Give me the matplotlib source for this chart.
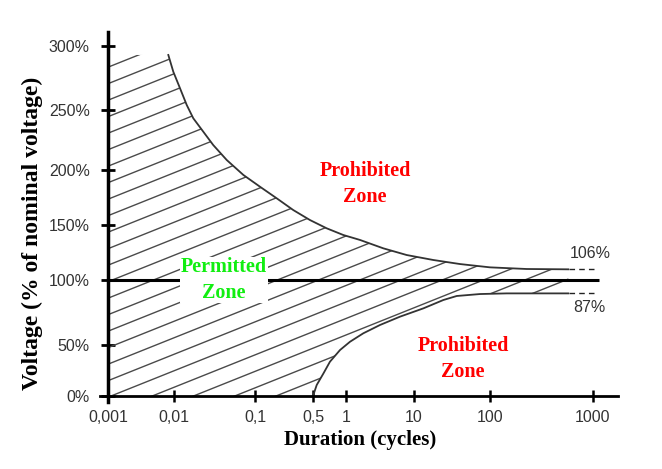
import numpy as np
import matplotlib.pyplot as plt
from matplotlib.collections import LineCollection

# tick values / labels
x_ticks = [0.001, 0.01, 0.1, 0.5, 1, 10, 100, 1000]
x_tick_labels = ['0,001', '0,01', '0,1', '0,5', '1', '10', '100', '1000']
y_ticks = [0, 50, 100, 150, 200, 250, 300]
y_tick_labels = ['0%', '50%', '100%', '150%', '200%', '250%', '300%']

# overvoltage limit curve (cycles, % of nominal)
upper_cycles = [0.0082, 0.00976, 0.01186, 0.01436, 0.0173, 0.0230, 0.0305, 0.0448,
                0.0718, 0.1148, 0.1824, 0.289, 0.460, 0.668, 0.951, 1.62, 3.55,
                7.82, 17.9, 40.3, 100, 227, 575]
upper_volts = [293.0, 279.9, 267.0, 253.9, 243.1, 231.9, 220.8, 208.3,
               195.5, 184.8, 174.3, 163.6, 154.5, 147.0, 140.9, 136.4, 128.8,
               122.7, 118.2, 114.5, 111.5, 110.0, 109.7]

# undervoltage limit curve
lower_cycles = [0.5, 0.541, 0.622, 0.716, 0.887, 1.156, 1.81, 3.18, 6.24,
                13.3, 24.3, 36.5, 73.8, 145, 575]
lower_volts = [0.0, 10.8, 21.9, 33.6, 45.1, 52.5, 59.0, 65.4, 71.8,
               78.2, 84.6, 87.7, 89.2, 89.7, 89.7]

nominal = 100
nominal_end = 1150        # where the 100% line stops
dash_cycles = [585, 1045]  # short dashed continuation of the steady state limits

# the hand drawn axes are not evenly spaced, so map ticks to their pixel spots
x_axis_log = [-4, -3, -2, -1, np.log10(0.5), 0, 1, 2, 3, 4]
x_axis_px = [42, 108, 174, 255, 313, 345.7, 414, 490, 593, 696]
y_axis_val = [-50, 0, 50, 100, 150, 200, 250, 300, 350]
y_axis_px = [447, 396, 345, 280, 225, 170, 110, 46, -18]


def fwd_x(x):
    return np.interp(np.log10(np.clip(x, 1e-12, None)), x_axis_log, x_axis_px)


def inv_x(p):
    return 10 ** np.interp(p, x_axis_px, x_axis_log)


def fwd_y(v):
    return -np.interp(v, y_axis_val, y_axis_px)


def inv_y(t):
    return np.interp(-np.asarray(t), y_axis_px[::-1], y_axis_val[::-1])


W, H = 662, 469
fig = plt.figure(figsize=(W / 100, H / 100), dpi=100)
ax = fig.add_axes([100 / W, 1 - 402 / H, 518 / W, 370 / H])
ax.set_xscale('function', functions=(fwd_x, inv_x))
ax.set_yscale('function', functions=(fwd_y, inv_y))
ax.set_xlim(inv_x(100), inv_x(618))
ax.set_ylim(inv_y(-402), inv_y(-32))

# permitted region outline (used only to clip the hatching)
top = upper_volts[0]
poly_x = [x_ticks[0]] + upper_cycles + lower_cycles[::-1] + [x_ticks[0]]
poly_y = [top] + upper_volts + lower_volts[::-1] + [0]
region = ax.fill(poly_x, poly_y, facecolor='none', edgecolor='none')[0]

# shallow diagonal hatch lines
k = 0.4 * 518 / 370
segs = [[(0, v0), (1, v0 + k)] for v0 in np.arange(-0.62, 1.0, 16.5 / 370)]
hatch = LineCollection(segs, colors='#4a4a4a', linewidths=1.0, transform=ax.transAxes)
ax.add_collection(hatch)
hatch.set_clip_path(region)

ax.plot(upper_cycles, upper_volts, color='#333333', lw=1.3)
ax.plot(lower_cycles, lower_volts, color='#333333', lw=1.3)
ax.hlines(nominal, x_ticks[0], nominal_end, color='black', lw=2.2, zorder=3)
ax.plot(dash_cycles, [upper_volts[-1]] * 2, color='#222222', lw=1, ls=(0, (4, 3)))
ax.plot(dash_cycles, [lower_volts[-1]] * 2, color='#222222', lw=1, ls=(0, (4, 3)))

for s in ['top', 'right']:
    ax.spines[s].set_visible(False)
ax.spines['left'].set_position(('data', x_ticks[0]))
ax.spines['bottom'].set_position(('data', 0))
ax.spines['left'].set_linewidth(2.5)
ax.spines['bottom'].set_linewidth(2)

ax.set_xticks(x_ticks)
ax.set_xticklabels(x_tick_labels)
ax.set_yticks(y_ticks)
ax.set_yticklabels(y_tick_labels)
ax.minorticks_off()
ax.tick_params(axis='y', direction='inout', length=10, width=2, pad=8,
               labelsize=11.5, labelcolor='#333333')
ax.tick_params(axis='x', direction='inout', length=8, width=1.8, pad=6,
               labelsize=11.5, labelcolor='#333333')
for lab in ax.get_xticklabels() + ax.get_yticklabels():
    lab.set_fontfamily('Liberation Sans')

serif = 'Liberation Serif'
fig.text(32 / W, 1 - 233 / H, 'Voltage (% of nominal voltage)', rotation=90,
         ha='center', va='center', fontsize=17, fontweight='bold', family=serif)
fig.text(360 / W, 1 - 440 / H, 'Duration (cycles)', ha='center', va='center',
         fontsize=15, fontweight='bold', family=serif)

fig.text(365 / W, 1 - 184 / H, 'Prohibited\nZone', ha='center', va='center',
         color='red', fontsize=14.5, fontweight='bold', family=serif, linespacing=1.35)
fig.text(463 / W, 1 - 359 / H, 'Prohibited\nZone', ha='center', va='center',
         color='red', fontsize=14.5, fontweight='bold', family=serif, linespacing=1.35)
fig.text(224 / W, 1 - 280 / H, 'Permitted\nZone', ha='center', va='center',
         color='#11ee11', fontsize=14.5, fontweight='bold', family=serif, linespacing=1.35,
         bbox=dict(facecolor='white', edgecolor='none', pad=0.5))

fig.text(570 / W, 1 - 253 / H, '106%', ha='left', va='center', fontsize=11.5,
         color='#333333', family='Liberation Sans')
fig.text(573 / W, 1 - 307 / H, '87%', ha='left', va='center', fontsize=11.5,
         color='#333333', family='Liberation Sans')

fig.savefig('out.png', dpi=100)
